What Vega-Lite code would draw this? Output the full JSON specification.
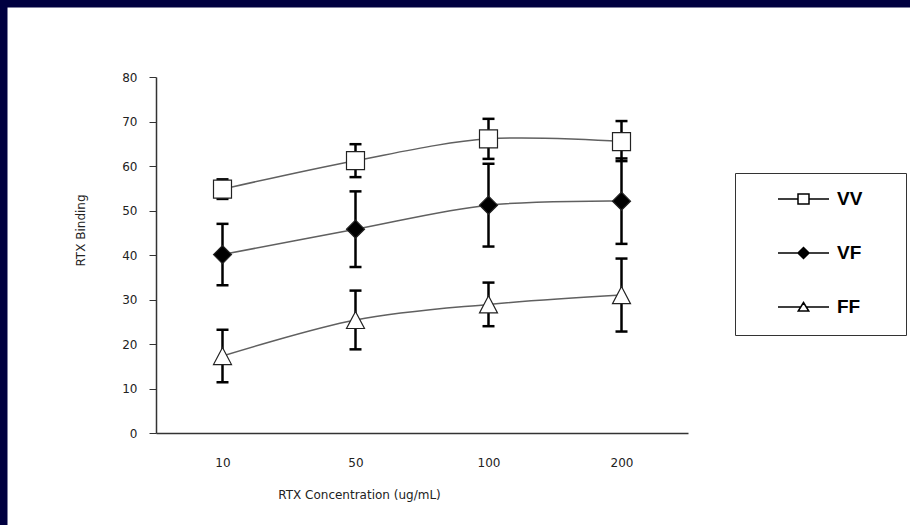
{
  "$schema": "https://vega.github.io/schema/vega-lite/v6.json",
  "width": 910,
  "height": 525,
  "autosize": {"type": "none"},
  "padding": 0,
  "background": "white",
  "config": {
    "view": {"fill": "white", "stroke": "#000040", "strokeWidth": 15, "strokeDash": [910, 1435, 525, 0]},
    "axis": {
      "grid": false,
      "domainColor": "#333333",
      "domainWidth": 1.5,
      "tickColor": "#333333",
      "labelFont": "DejaVu Sans",
      "labelFontSize": 12,
      "labelColor": "#222222",
      "titleFont": "DejaVu Sans",
      "titleFontSize": 12,
      "titleFontWeight": "normal",
      "titleColor": "#222222"
    },
    "legend": {
      "title": null,
      "orient": "none",
      "legendX": 735,
      "legendY": 173,
      "padding": 0,
      "rowPadding": -5,
      "labelOffset": 50,
      "labelFont": "Liberation Sans",
      "labelFontSize": 19,
      "labelFontWeight": "bold",
      "labelColor": "black",
      "symbolSize": 2500,
      "symbolOpacity": 1,
      "strokeColor": "#333333",
      "symbolStrokeColor": "black",
      "symbolStrokeWidth": 1.5
    }
  },
  "data": {
    "values": [
      {"series": "VV", "conc": "10", "mean": 54.8, "lo": 52.6, "hi": 57.0},
      {"series": "VV", "conc": "50", "mean": 61.2, "lo": 57.5, "hi": 64.9},
      {"series": "VV", "conc": "100", "mean": 66.1, "lo": 61.6, "hi": 70.6},
      {"series": "VV", "conc": "200", "mean": 65.5, "lo": 61.1, "hi": 70.1},
      {"series": "VF", "conc": "10", "mean": 40.1, "lo": 33.2, "hi": 47.0},
      {"series": "VF", "conc": "50", "mean": 45.8, "lo": 37.3, "hi": 54.3},
      {"series": "VF", "conc": "100", "mean": 51.2, "lo": 41.9, "hi": 60.5},
      {"series": "VF", "conc": "200", "mean": 52.1, "lo": 42.5, "hi": 61.7},
      {"series": "FF", "conc": "10", "mean": 17.3, "lo": 11.4, "hi": 23.2},
      {"series": "FF", "conc": "50", "mean": 25.4, "lo": 18.8, "hi": 32.0},
      {"series": "FF", "conc": "100", "mean": 28.9, "lo": 24.0, "hi": 33.8},
      {"series": "FF", "conc": "200", "mean": 31.0, "lo": 22.8, "hi": 39.2}
    ]
  },
  "resolve": {"scale": {"shape": "independent", "fill": "independent", "stroke": "independent"}},
  "encoding": {
    "x": {
      "field": "conc",
      "type": "ordinal",
      "sort": ["10", "50", "100", "200"],
      "scale": {"type": "point", "domain": ["10", "50", "100", "200"], "range": [156, 688], "padding": 0.5},
      "axis": {
        "title": "RTX Concentration (ug/mL)",
        "titleX": 359,
        "titleY": 61,
        "titleBaseline": "middle",
        "titleAlign": "center",
        "offset": -92,
        "ticks": false,
        "tickSize": 0,
        "labelPadding": 29,
        "labelBaseline": "middle",
        "labelAngle": 0
      }
    }
  },
  "layer": [
    {
      "mark": {"type": "rule", "color": "black", "strokeWidth": 2.5},
      "encoding": {
        "y": {
          "field": "lo",
          "type": "quantitative",
          "title": "RTX Binding",
          "scale": {"domain": [0, 80], "range": [433, 77], "nice": false, "zero": true},
          "axis": {
            "title": "RTX Binding",
            "values": [0, 10, 20, 30, 40, 50, 60, 70, 80],
            "offset": -156,
            "titleX": -76,
            "titleY": 230,
            "titleAngle": -90,
            "titleBaseline": "middle",
            "titleAlign": "center",
            "tickSize": 7,
            "labelPadding": 12
          }
        },
        "y2": {"field": "hi"}
      }
    },
    {
      "mark": {"type": "tick", "color": "black", "size": 12, "thickness": 2.5, "orient": "horizontal", "opacity": 1},
      "encoding": {"y": {"field": "lo", "type": "quantitative", "title": "RTX Binding"}}
    },
    {
      "mark": {"type": "tick", "color": "black", "size": 12, "thickness": 2.5, "orient": "horizontal", "opacity": 1},
      "encoding": {"y": {"field": "hi", "type": "quantitative", "title": "RTX Binding"}}
    },
    {
      "mark": {"type": "line", "interpolate": "catmull-rom", "stroke": "#606060", "strokeWidth": 1.5},
      "encoding": {
        "y": {"field": "mean", "type": "quantitative", "title": "RTX Binding"},
        "detail": {"field": "series"}
      }
    },
    {
      "mark": {"type": "point", "filled": true, "size": 324, "stroke": "#222222", "strokeWidth": 1.2, "opacity": 1},
      "encoding": {
        "y": {"field": "mean", "type": "quantitative", "title": "RTX Binding"},
        "shape": {
          "field": "series",
          "type": "nominal",
          "scale": {"domain": ["VV", "VF", "FF"], "range": ["square", "diamond", "M0,-0.95L1,0.95L-1,0.95Z"]},
          "legend": null
        },
        "fill": {
          "field": "series",
          "type": "nominal",
          "scale": {"domain": ["VV", "VF", "FF"], "range": ["white", "black", "white"]},
          "legend": null
        }
      }
    },
    {
      "mark": {"type": "point", "filled": true, "strokeWidth": 1.5, "opacity": 0},
      "encoding": {
        "y": {"field": "mean", "type": "quantitative", "title": "RTX Binding"},
        "shape": {
          "field": "series",
          "type": "nominal",
          "scale": {
            "domain": ["VV", "VF", "FF"],
            "range": [
              "M-1,-1M5.66,1M0.68,0H1.48M1.92,0H2.72M1.48,-0.2H1.92V0.2H1.48Z",
              "M-1,-1M5.66,1M0.68,0H2.72M1.7,-0.22L1.92,0L1.7,0.22L1.48,0Z",
              "M-1,-1M5.66,1M0.68,0H1.59M1.81,0H2.72M1.7,-0.18L1.91,0.16L1.49,0.16Z"
            ]
          }
        },
        "fill": {
          "field": "series",
          "type": "nominal",
          "scale": {"domain": ["VV", "VF", "FF"], "range": ["white", "black", "white"]}
        },
        "stroke": {
          "field": "series",
          "type": "nominal",
          "scale": {"domain": ["VV", "VF", "FF"], "range": ["black", "black", "black"]}
        }
      }
    }
  ]
}
